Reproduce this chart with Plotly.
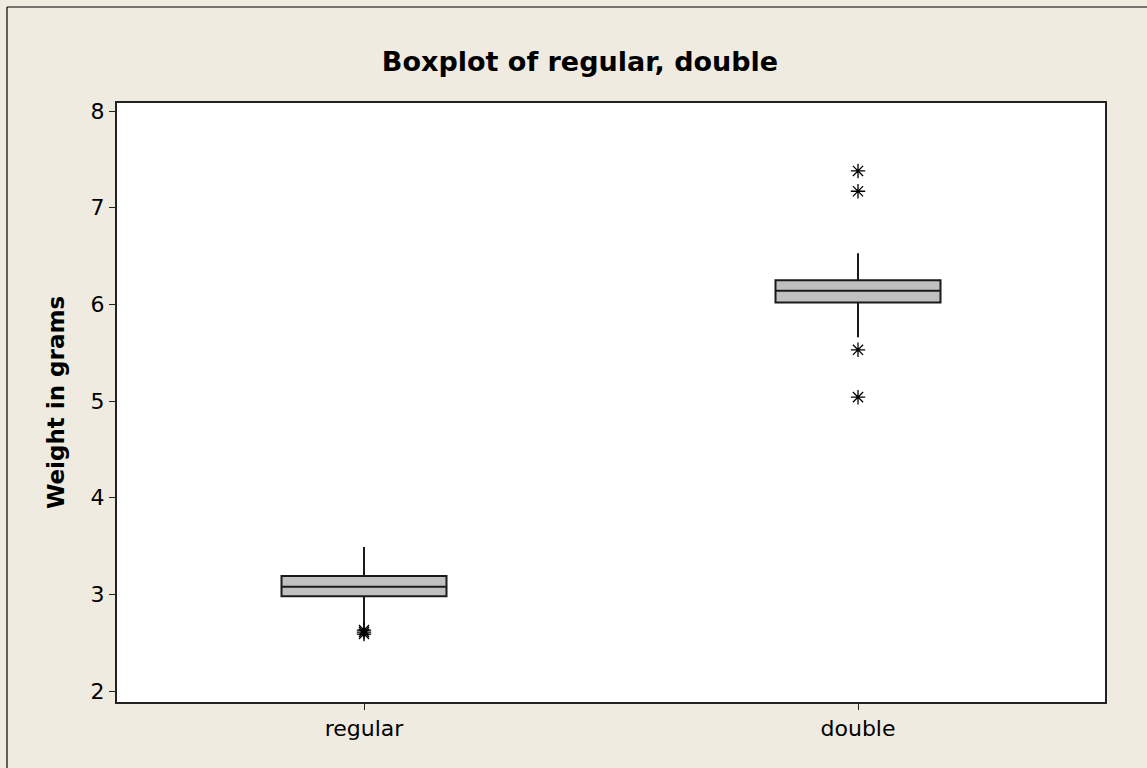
import plotly.graph_objects as go

categories = ["regular", "double"]
q1 = [2.98, 6.02]
median = [3.08, 6.14]
q3 = [3.19, 6.25]
lower_whisker = [2.68, 5.66]
upper_whisker = [3.49, 6.53]
outliers_regular = [2.59, 2.61, 2.63]
outliers_double = [5.04, 5.53, 7.17, 7.38]

y_ticks = [2, 3, 4, 5, 6, 7, 8]

fig = go.Figure()

for i, cat in enumerate(categories):
    fig.add_trace(go.Box(
        x=[cat], q1=[q1[i]], median=[median[i]], q3=[q3[i]],
        lowerfence=[lower_whisker[i]], upperfence=[upper_whisker[i]],
        fillcolor="#c0c0c0", line=dict(color="#1a1a1a", width=2),
        width=0.334, boxpoints=False, showlegend=False, whiskerwidth=0,
    ))

out_x = [categories[0]] * len(outliers_regular) + [categories[1]] * len(outliers_double)
out_y = outliers_regular + outliers_double
fig.add_trace(go.Scatter(
    x=out_x, y=out_y, mode="markers",
    marker=dict(symbol="asterisk-open", size=12, color="black",
                line=dict(color="black", width=1.3)),
    showlegend=False,
))

fig.update_layout(
    width=1147, height=768,
    margin=dict(l=117, r=42, t=103, b=66),
    paper_bgcolor="#efebe1",
    plot_bgcolor="white",
    boxmode="overlay",
    title=dict(text="<b>Boxplot of regular, double</b>", x=0.5057, xanchor="center",
               y=1 - 62 / 768, yanchor="middle",
               font=dict(family="DejaVu Sans", size=27, color="black")),
    font=dict(family="DejaVu Sans", color="black"),
    xaxis=dict(
        type="category", categoryorder="array", categoryarray=categories,
        range=[-0.5, 1.5], showgrid=False, zeroline=False,
        showline=True, linecolor="#222", linewidth=2, mirror=True,
        ticks="outside", ticklen=6, tickcolor="#222", tickwidth=1,
        tickfont=dict(family="DejaVu Sans", size=22, color="black"),
    ),
    yaxis=dict(
        range=[1.887, 8.083], tickvals=y_ticks, showgrid=False, zeroline=False,
        showline=True, linecolor="#222", linewidth=2, mirror=True,
        ticks="outside", ticklen=6, tickcolor="#222", tickwidth=1,
        tickfont=dict(family="DejaVu Sans", size=22, color="black"),
        title=dict(text="<b>Weight in grams</b>", standoff=20,
                   font=dict(family="DejaVu Sans", size=23, color="black")),
    ),
    shapes=[
        dict(type="line", xref="paper", yref="paper",
             x0=(7 - 117) / 988, x1=1.1, y0=(702 - 7) / 599, y1=(702 - 7) / 599,
             line=dict(color="black", width=1.2)),
        dict(type="line", xref="paper", yref="paper",
             x0=(7 - 117) / 988, x1=(7 - 117) / 988, y0=-0.2, y1=(702 - 7) / 599,
             line=dict(color="black", width=1.2)),
    ],
)

fig.write_html("out.html", config={"displayModeBar": False},
               post_script="document.body.style.margin='0';")
